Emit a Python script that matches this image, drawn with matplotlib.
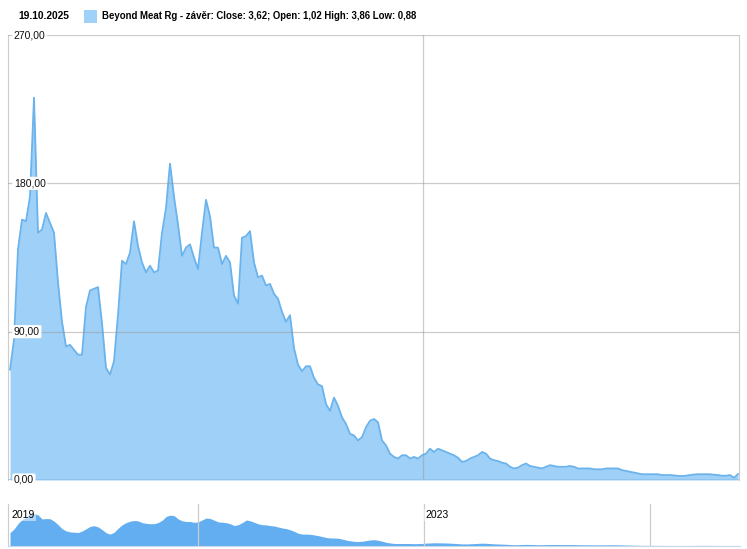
import numpy as np
import pandas as pd
import matplotlib
matplotlib.use('Agg')
import matplotlib.pyplot as plt
import matplotlib.transforms as mtransforms
from matplotlib.patches import Rectangle

plt.rcParams['font.family'] = ['Liberation Sans', 'DejaVu Sans']

# Beyond Meat closing prices (~every 13 days)
start = '2019-05-02'
end = '2025-10-17'
close = [67, 85, 140, 158, 157, 172, 232, 150, 152, 162,
         156, 150, 120, 96, 81, 82, 79, 76, 76, 105,
         115, 116, 117, 95, 68, 64, 72, 100, 133, 131,
         138, 157, 142, 132, 126, 130, 126, 127, 150, 165,
         192, 172, 155, 136, 141, 143, 135, 128, 150, 170,
         160, 141, 141, 131, 136, 132, 112, 107, 147, 148,
         151, 132, 123, 124, 118, 119, 113, 110, 102, 96,
         100, 80, 70, 66, 69, 69, 62, 58, 57, 46,
         42, 50, 45, 38, 34, 28, 27, 24, 26, 32,
         36, 37, 35, 24, 21, 16, 14, 13, 15, 15,
         13, 14, 13, 15, 16, 19, 17, 19, 18, 17,
         16, 15, 13.5, 11, 11.5, 13, 14, 15, 17, 16,
         13, 12, 11.5, 10.5, 10, 8, 7, 7.5, 9, 10,
         8.5, 8, 7.5, 7, 8, 9, 8.5, 8, 8, 8,
         8.5, 8, 7, 7, 7, 7, 6.5, 6.5, 6.5, 7,
         7, 7, 7, 6, 5.5, 5, 4.5, 4, 3.5, 3.5,
         3.5, 3.5, 3.5, 3, 3, 3, 2.8, 2.5, 2.4, 2.6,
         3, 3.3, 3.5, 3.5, 3.5, 3.5, 3.2, 3, 2.6, 2.6,
         3, 1.3, 3.62]
yticks = [0, 90, 180, 270]
date_lines = ['2021-01-01', '2023-01-01', '2025-01-01']
nav_labels = {'2019': '2019-05-02', '2023': '2023-01-01'}

dates = pd.date_range(start, end, periods=len(close))
s = pd.Series(close, index=dates)
nav = s.rolling(3, center=True, min_periods=1).mean()

fill_c = '#9fd0f7'
line_c = '#6ab3ec'
grid_c = '#cccccc'

fig = plt.figure(figsize=(7.47, 5.49), dpi=100)
W, H = 747, 549

xl = (pd.Timestamp(start) - pd.Timedelta(days=6.5), pd.Timestamp(end) + pd.Timedelta(days=3.2))

# main chart
ax = fig.add_axes([8 / W, 1 - 480 / H, 731 / W, 445 / H])
ax.fill_between(s.index, 0, s.values, color=fill_c, lw=0, zorder=2)
ax.plot(s.index, s.values, color=line_c, lw=1.3, zorder=3)
ax.set_xlim(xl)
ax.set_ylim(0, 270)
for v in yticks[1:]:
    ax.axhline(v, color='#999999', alpha=0.5, lw=0.9, zorder=4)
ax.axvline(pd.Timestamp('2023-01-01'), color='#999999', alpha=0.5, lw=0.9, zorder=4)
for sp in ['top', 'bottom']:
    ax.spines[sp].set_visible(False)
ax.spines['left'].set_color(grid_c)
ax.spines['right'].set_color(grid_c)
ax.axhline(0, color='#8cc0ea', lw=1.2, zorder=4)
ax.set_xticks([])
ax.set_yticks([])
trans = mtransforms.blended_transform_factory(ax.transAxes, ax.transData)
for v in yticks:
    lab = f'{v:.2f}'.replace('.', ',')
    ax.text(0.008, v, lab, transform=trans, ha='left', va='center', fontsize=7.5,
            color='#111111', zorder=6,
            bbox=dict(boxstyle='round,pad=0.15', fc='white', ec='none'))

# header
fig.text(18 / W, 1 - 16 / H, '19.10.2025', fontsize=7.4, fontweight='bold',
         va='center', ha='left')
fig.patches.append(Rectangle((84 / W, 1 - 23 / H), 13 / W, 13 / H, transform=fig.transFigure,
                             fc='#a0d1f8', ec='none'))
fig.text(102 / W, 1 - 16 / H,
         'Beyond Meat Rg - závěr: Close: 3,62; Open: 1,02 High: 3,86 Low: 0,88',
         fontsize=6.9, fontweight='bold', va='center', ha='left')

# navigator
nx = fig.add_axes([8 / W, 3 / H, 732 / W, 42 / H])
nx.fill_between(nav.index, 0, nav.values, color='#62aef0', lw=0)
nx.set_xlim(xl)
nx.set_ylim(0, 240)
for d in date_lines:
    nx.axvline(pd.Timestamp(d), color=grid_c, lw=0.9)
for sp in ['top', 'right']:
    nx.spines[sp].set_visible(False)
nx.spines['left'].set_color(grid_c)
nx.spines['bottom'].set_color('#c8d8e8')
nx.set_xticks([])
nx.set_yticks([])
ntrans = mtransforms.blended_transform_factory(nx.transData, nx.transAxes)
for lab, d in nav_labels.items():
    x0 = pd.Timestamp(d) + pd.Timedelta(days=4)
    nx.text(x0, 0.74, lab, transform=ntrans, fontsize=7.5, ha='left', va='center',
            bbox=dict(boxstyle='square,pad=0.1', fc='white', ec='none', alpha=0.5))

fig.savefig('out.png', dpi=100)
